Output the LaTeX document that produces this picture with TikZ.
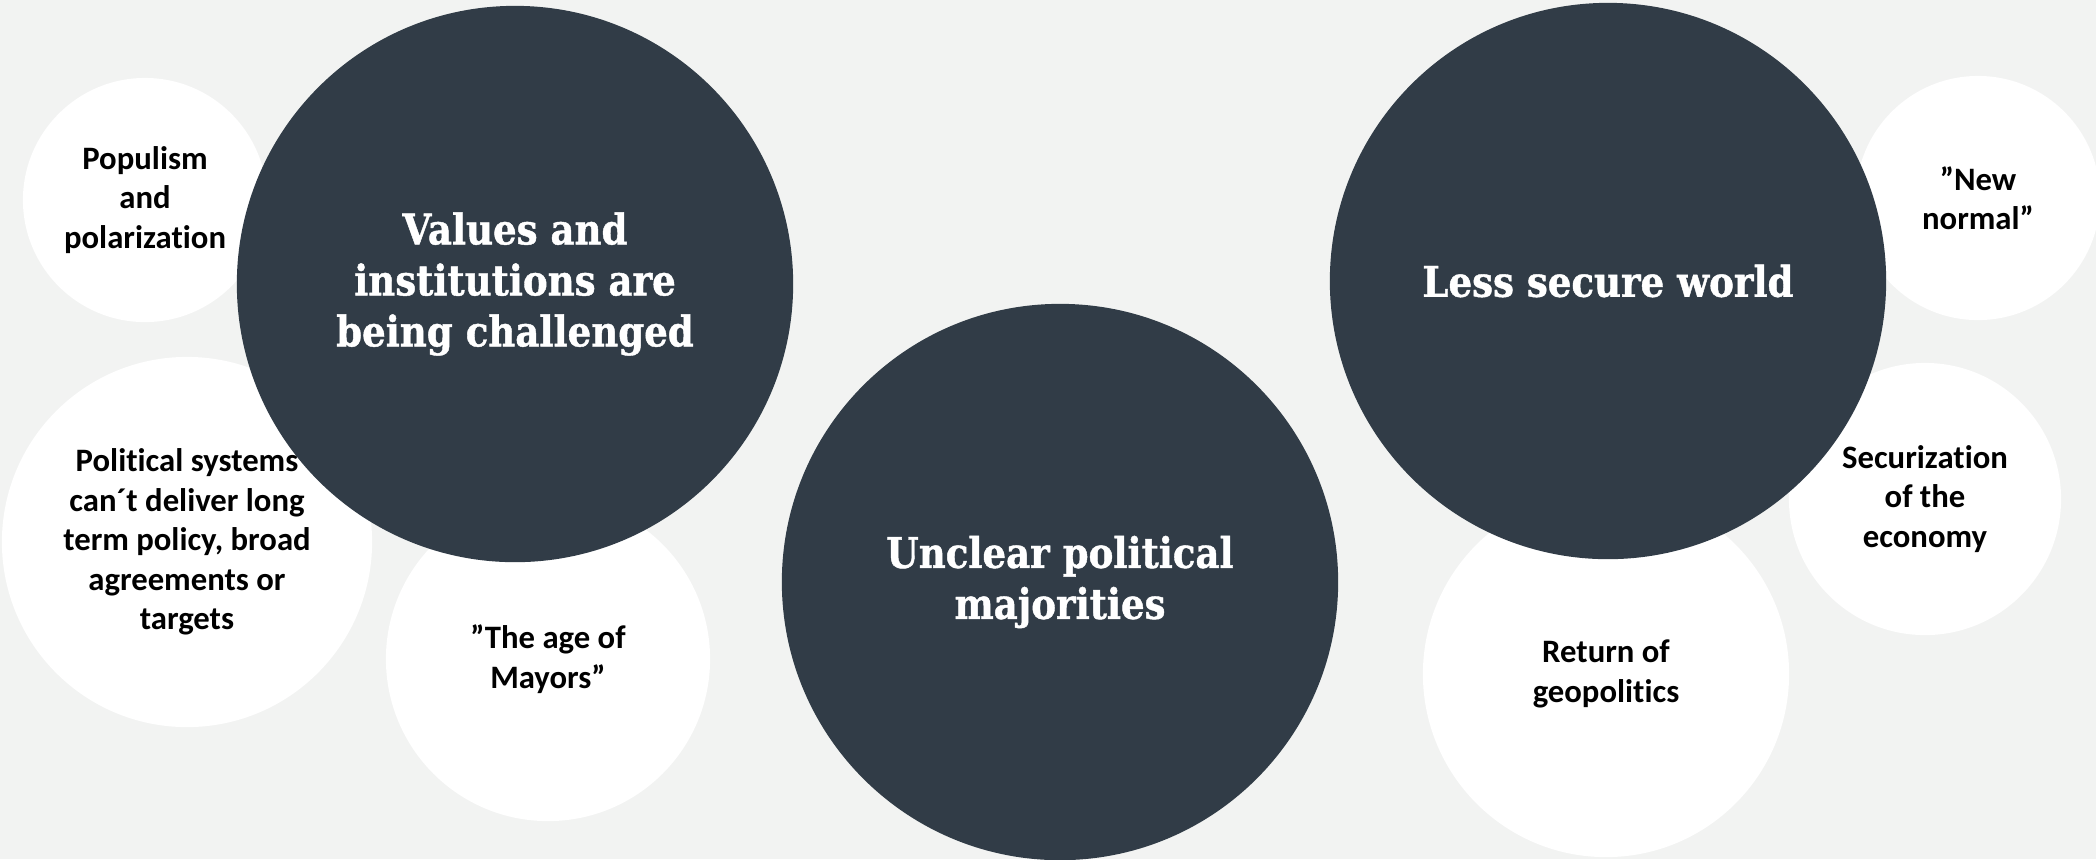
\documentclass[tikz,border=0pt]{standalone}
\usepackage{fontspec}
\setmainfont{Carlito}[Ligatures=NoCommon]
\newfontfamily\slabfont[FakeStretch=0.88,BoldFeatures={FakeBold=1}]{DejaVu Serif}
\usepackage{tikz}

\definecolor{slate}{HTML}{313C47}
\definecolor{paper}{HTML}{F2F3F2}

\tikzset{
  theme/.style = {circle, fill=slate, text=white, inner sep=0pt, align=center, minimum size=5.56cm, font=\slabfont\bfseries\fontsize{12}{14.5}\selectfont},
  topic/.style = {circle, fill=white, text=black, inner sep=0pt, align=center, font=\bfseries\fontsize{9.3}{11.2}\selectfont}
}

\begin{document}
\begin{tikzpicture}[x = 0.01cm, y = -0.01cm]
\useasboundingbox (0,0) rectangle (2096,859);
\fill [paper] (0,0) rectangle (2096,859);
% small white circles first
\node [topic, minimum size=2.44cm] (populism) at (145,200) {Populism\\and\\polarization};
\node [topic, minimum size=3.70cm] (systems) at (187,542) {Political systems\\can´t deliver long\\term policy, broad\\agreements or\\targets};
\node [topic, minimum size=3.24cm] (mayors) at (548,659) {”The age of\\Mayors”};
\node [topic, minimum size=3.66cm] (geopolitics) at (1606,674) {Return of\\geopolitics};
\node [topic, minimum size=2.72cm] (economy) at (1925,499) {Securization\\of the\\economy};
\node [topic, minimum size=2.44cm] (normal) at (1978,198) {”New\\normal”};
% the three big ones on top
\node [theme] (values) at (515,284) {Values and\\institutions are\\being challenged};
\node [theme] (majorities) at (1060,582) {Unclear political\\majorities};
\node [theme] (secure) at (1608,281) {Less secure world};
\end{tikzpicture}
\end{document}
